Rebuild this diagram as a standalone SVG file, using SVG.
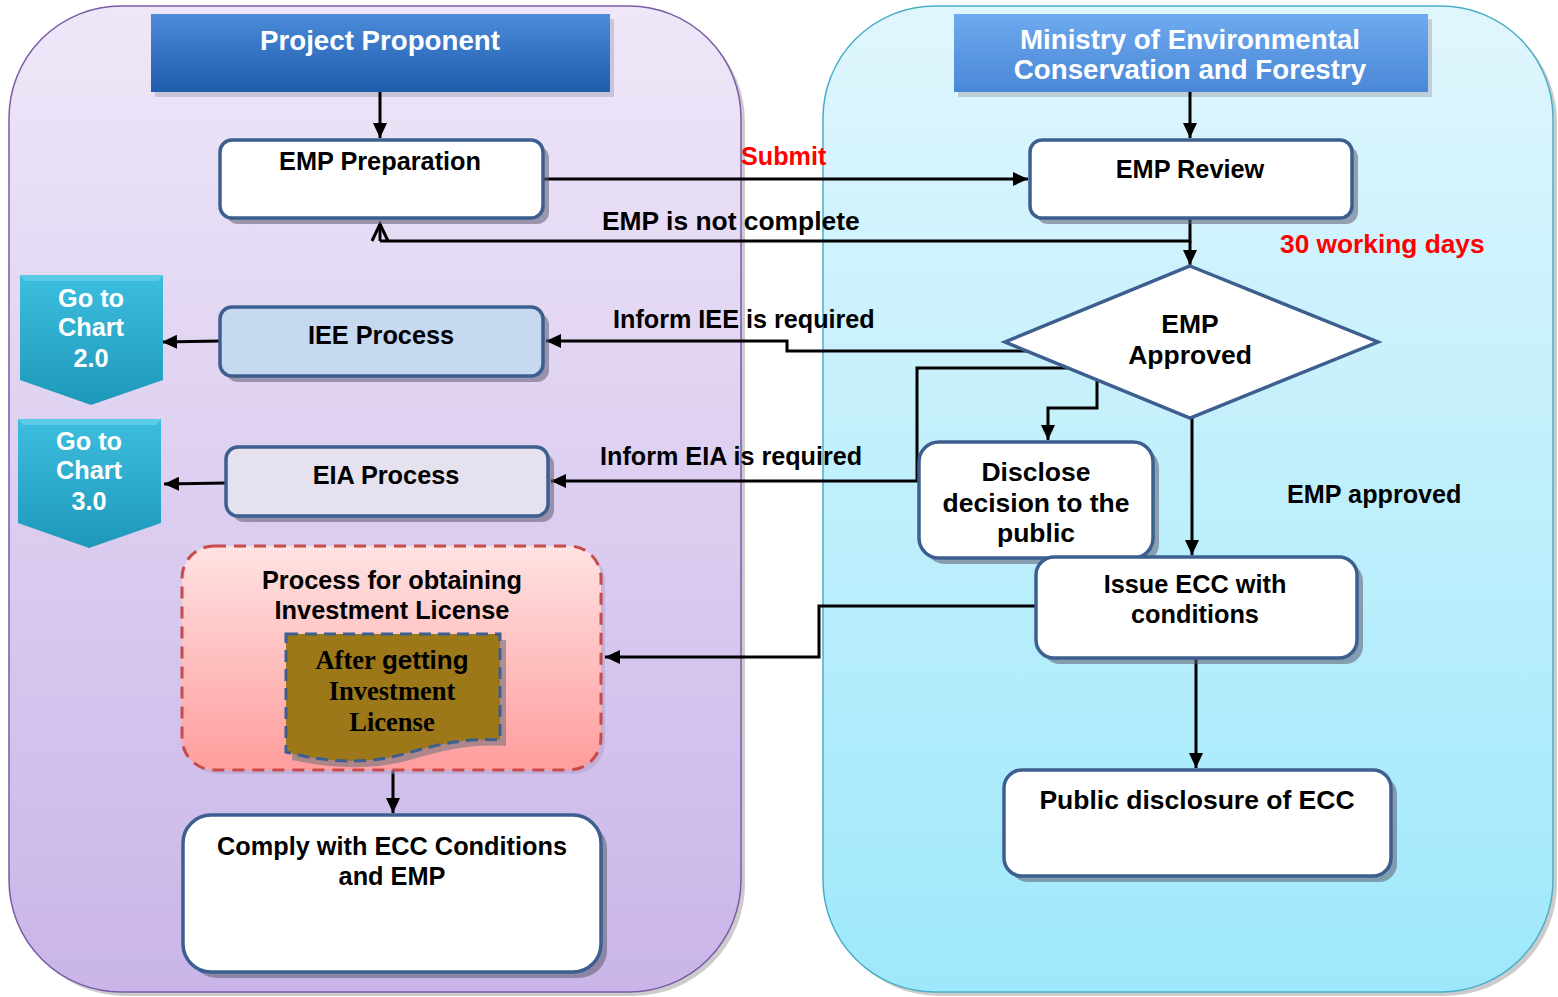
<svg xmlns="http://www.w3.org/2000/svg" width="1558" height="997" viewBox="0 0 1558 997">
<defs>
<linearGradient id="gLeft" x1="0" y1="0" x2="0" y2="1"><stop offset="0" stop-color="#efe7f8"/><stop offset="1" stop-color="#c9b5e8"/></linearGradient>
<linearGradient id="gRight" x1="0" y1="0" x2="0" y2="1"><stop offset="0" stop-color="#e0f6fd"/><stop offset="1" stop-color="#9ee8fb"/></linearGradient>
<linearGradient id="gHdr1" x1="0" y1="0" x2="0" y2="1"><stop offset="0" stop-color="#4b8bd9"/><stop offset="1" stop-color="#1f5cab"/></linearGradient>
<linearGradient id="gHdr2" x1="0" y1="0" x2="0" y2="1"><stop offset="0" stop-color="#6eaaee"/><stop offset="1" stop-color="#4a87d6"/></linearGradient>
<linearGradient id="gGo" x1="0" y1="0" x2="0" y2="1"><stop offset="0" stop-color="#3dbedf"/><stop offset="1" stop-color="#1d98ba"/></linearGradient>
<linearGradient id="gProc" x1="0" y1="0" x2="0" y2="1"><stop offset="0" stop-color="#ffe2e2"/><stop offset="1" stop-color="#ff9d9d"/></linearGradient>
<marker id="ah" markerUnits="userSpaceOnUse" markerWidth="16" markerHeight="14" refX="15" refY="7" orient="auto"><path d="M0,0 L15,7 L0,14 z" fill="#000"/></marker>
</defs>
<style>
.panelL{fill:url(#gLeft);stroke:#7b5aa6;stroke-width:1.5}
.panelR{fill:url(#gRight);stroke:#4aaec8;stroke-width:1.5}
.pshadow{fill:#9a9a9a;opacity:.5}
.box{fill:#fff;stroke:#3d5f8f;stroke-width:3.5}
.shadow{fill:#5c5c70;opacity:.55}
.t{font-family:"Liberation Sans",Arial,sans-serif;font-weight:bold;font-size:25.3px;fill:#000;text-anchor:middle}
.ls{font-family:"Liberation Sans",Arial,sans-serif;font-weight:bold;font-size:25.2px;fill:#000;text-anchor:start}
.hd{font-size:27.7px}
.big{font-size:26.5px}
.w{fill:#fff}
.red{fill:#ff0000}
.serif{font-family:"Liberation Serif","Times New Roman",serif;font-weight:bold;font-size:26.5px}
.ln{fill:none;stroke:#000;stroke-width:3}
</style>

<g id="panels">
<rect class="pshadow" x="13" y="10" width="732" height="986" rx="112"/>
<rect class="panelL" x="9" y="6" width="732" height="986" rx="112"/>
<rect class="pshadow" x="827" y="10" width="730" height="986" rx="112"/>
<rect class="panelR" x="823" y="6" width="730" height="986" rx="112"/>
</g>

<g id="hdr-proponent">
<rect x="155" y="19" width="459" height="78" fill="#8a8a9a" opacity=".35"/>
<rect x="151" y="14" width="459" height="78" fill="url(#gHdr1)"/>
<text class="t w hd" x="380" y="50">Project Proponent</text>
</g>

<g id="hdr-ministry">
<rect x="958" y="19" width="474" height="78" fill="#8a8a9a" opacity=".35"/>
<rect x="954" y="14" width="474" height="78" fill="url(#gHdr2)"/>
<text class="t w hd" x="1190" y="49">Ministry of Environmental</text>
<text class="t w hd" x="1190" y="79">Conservation and Forestry</text>
</g>

<g id="connectors">
<line class="ln" x1="380" y1="92" x2="380" y2="138" marker-end="url(#ah)"/>
<line class="ln" x1="1190" y1="92" x2="1190" y2="138" marker-end="url(#ah)"/>
<line class="ln" x1="543" y1="179" x2="1028" y2="179" marker-end="url(#ah)"/>
<polyline class="ln" points="1190,218 1190,241 380,241"/>
<line class="ln" x1="380" y1="241" x2="380" y2="224"/>
<polyline class="ln" points="372,241 380,224 388,241"/>
<line class="ln" x1="1190" y1="241" x2="1190" y2="265" marker-end="url(#ah)"/>
<polyline class="ln" points="1030,351 787,351 787,341 546,341" marker-end="url(#ah)"/>
<line class="ln" x1="220" y1="341" x2="162" y2="342" marker-end="url(#ah)"/>
<polyline class="ln" points="1084,368 917,368 917,481 551,481" marker-end="url(#ah)"/>
<line class="ln" x1="226" y1="483" x2="164" y2="484" marker-end="url(#ah)"/>
<polyline class="ln" points="1097,378 1097,408 1048,408 1048,440" marker-end="url(#ah)"/>
<line class="ln" x1="1192" y1="410" x2="1192" y2="555" marker-end="url(#ah)"/>
<polyline class="ln" points="1036,606 819,606 819,657 605,657" marker-end="url(#ah)"/>
<line class="ln" x1="1196" y1="658" x2="1196" y2="768" marker-end="url(#ah)"/>
<line class="ln" x1="393" y1="770" x2="393" y2="813" marker-end="url(#ah)"/>
<text class="ls red" x="741" y="165">Submit</text>
<text class="ls" x="602" y="230" style="font-size:26.4px">EMP is not complete</text>
<text class="ls red" x="1280" y="253" style="font-size:26.3px">30 working days</text>
<text class="ls" x="613" y="328">Inform IEE is required</text>
<text class="ls" x="600" y="465">Inform EIA is required</text>
<text class="ls" x="1287" y="503">EMP approved</text>
</g>

<g id="emp-preparation">
<rect class="shadow" x="226" y="146" width="323" height="78" rx="12"/>
<rect class="box" x="220" y="140" width="323" height="78" rx="12"/>
<text class="t" x="380" y="170">EMP Preparation</text>
</g>

<g id="emp-review">
<rect class="shadow" x="1036" y="146" width="322" height="78" rx="12"/>
<rect class="box" x="1030" y="140" width="322" height="78" rx="12"/>
<text class="t" x="1190" y="178">EMP Review</text>
</g>

<g id="emp-approved">
<polygon points="1190,266 1378,342 1190,418 1005,342" fill="#fff" stroke="#3d5f8f" stroke-width="3.5"/>
<text class="t big" x="1190" y="333">EMP</text>
<text class="t big" x="1190" y="364">Approved</text>
</g>

<g id="iee-process">
<rect class="shadow" x="226" y="313" width="323" height="69" rx="12"/>
<rect class="box" x="220" y="307" width="323" height="69" rx="12" style="fill:#c6d9f0"/>
<text class="t" x="381" y="344">IEE Process</text>
</g>

<g id="eia-process">
<rect class="shadow" x="232" y="453" width="322" height="69" rx="12"/>
<rect class="box" x="226" y="447" width="322" height="69" rx="12" style="fill:#e5e1ef"/>
<text class="t" x="386" y="484">EIA Process</text>
</g>

<g id="go-chart-2">
<polygon points="20,275 163,275 163,380 91,405 20,380" fill="url(#gGo)"/>
<polygon points="20,275 163,275 158,281 25,281" fill="#6fd3ec" opacity=".6"/>
<text class="t w" x="91" y="307">Go to</text>
<text class="t w" x="91" y="336">Chart</text>
<text class="t w" x="91" y="367">2.0</text>
</g>

<g id="go-chart-3">
<polygon points="18,419 161,419 161,523 89,548 18,523" fill="url(#gGo)"/>
<polygon points="18,419 161,419 156,425 23,425" fill="#6fd3ec" opacity=".6"/>
<text class="t w" x="89" y="450">Go to</text>
<text class="t w" x="89" y="479">Chart</text>
<text class="t w" x="89" y="510">3.0</text>
</g>

<g id="disclose">
<rect class="shadow" x="925" y="448" width="234" height="116" rx="20"/>
<rect class="box" x="919" y="442" width="234" height="116" rx="20"/>
<text class="t big" x="1036" y="481">Disclose</text>
<text class="t big" x="1036" y="512">decision to the</text>
<text class="t big" x="1036" y="542">public</text>
</g>

<g id="issue-ecc">
<rect class="shadow" x="1042" y="563" width="321" height="101" rx="18"/>
<rect class="box" x="1036" y="557" width="321" height="101" rx="18"/>
<text class="t" x="1195" y="593">Issue ECC with</text>
<text class="t" x="1195" y="623">conditions</text>
</g>

<g id="public-disclosure">
<rect class="shadow" x="1010" y="776" width="387" height="106" rx="18"/>
<rect class="box" x="1004" y="770" width="387" height="106" rx="18"/>
<text class="t big" x="1197" y="809">Public disclosure of ECC</text>
</g>

<g id="investment-license">
<rect x="186" y="550" width="419" height="224" rx="32" fill="#b0a0c8" opacity=".5"/>
<rect x="182" y="546" width="419" height="224" rx="32" fill="url(#gProc)" stroke="#c84a4a" stroke-width="3" stroke-dasharray="12,8"/>
<text class="t" x="392" y="589">Process for obtaining</text>
<text class="t" x="392" y="619">Investment License</text>
<path d="M292,640 H506 V746 C470,744 445,750 410,760 C370,771 330,768 292,760 Z" fill="#8a7a80" opacity=".7"/>
<path d="M286,634 H500 V740 C464,738 439,744 404,754 C364,765 324,762 286,752 Z" fill="#9c7818" stroke="#3d5f8f" stroke-width="3" stroke-dasharray="12,7"/>
<text class="t" x="392" y="669" style="font-size:26px"><tspan class="serif">After </tspan><tspan>getting</tspan></text>
<text class="t serif" x="392" y="700">Investment</text>
<text class="t serif" x="392" y="731">License</text>
</g>

<g id="comply">
<rect class="shadow" x="189" y="821" width="418" height="157" rx="28"/>
<rect class="box" x="183" y="815" width="418" height="157" rx="28"/>
<text class="t" x="392" y="855">Comply with ECC Conditions</text>
<text class="t" x="392" y="885">and EMP</text>
</g>
</svg>
